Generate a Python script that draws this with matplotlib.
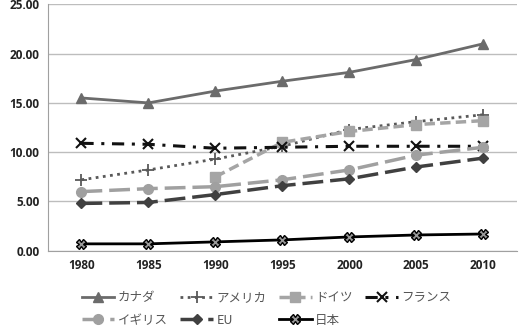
import matplotlib
matplotlib.use("Agg")
import matplotlib.pyplot as plt
import numpy as np

plt.rcParams['font.family'] = ['Noto Sans CJK JP', 'DejaVu Sans']

years = ["1980", "1985", "1990", "1995", "2000", "2005", "2010"]
canada = [15.5, 15.0, 16.2, 17.2, 18.1, 19.4, 21.0]
america = [7.2, 8.2, 9.3, 10.6, 12.3, 13.1, 13.8]
germany = [np.nan, np.nan, 7.5, 11.0, 12.1, 12.8, 13.2]
france = [10.9, 10.8, 10.4, 10.5, 10.6, 10.6, 10.6]
uk = [6.0, 6.3, 6.5, 7.2, 8.2, 9.7, 10.5]
eu = [4.8, 4.9, 5.7, 6.6, 7.3, 8.5, 9.4]
japan = [0.7, 0.7, 0.9, 1.1, 1.4, 1.6, 1.7]
yticks = [0, 5, 10, 15, 20, 25]

fig = plt.figure(figsize=(5.21, 3.33), dpi=100)
ax = fig.add_axes([0.092, 0.247, 0.9, 0.74])
x = np.arange(len(years))

hc, = ax.plot(x, canada, color='#6b6b6b', lw=2.0, marker='^', ms=7, label='カナダ')
ha, = ax.plot(x, america, color='#595959', lw=2.0, ls=(0, (1, 1.6)), marker='+', ms=8, mew=1.3, label='アメリカ')
hg, = ax.plot(x, germany, color='#a5a5a5', lw=2.5, ls=(0, (3, 1.5)), marker='s', ms=7, label='ドイツ')
hf, = ax.plot(x, france, color='#111111', lw=2.2, ls=(0, (4, 2.5, 1, 2.5)), marker='x', ms=7, mew=1.5, label='フランス')
hu, = ax.plot(x, uk, color='#a0a0a0', lw=2.5, ls=(0, (6, 2)), marker='o', ms=7, label='イギリス')
he, = ax.plot(x, eu, color='#404040', lw=2.5, ls=(0, (6, 2)), marker='D', ms=5, label='EU')
hj, = ax.plot(x, japan, color='#000000', lw=2.0, marker='X', ms=7, mfc='#9a9a9a', mec='#000000', mew=1.0, label='日本')

ax.set_xlim(-0.5, len(years) - 0.5)
ax.set_ylim(0, 25)
ax.set_yticks(yticks)
ax.set_yticklabels([f"{v:.2f}" for v in yticks])
ax.set_xticks(x)
ax.set_xticklabels(years)
ax.grid(axis='y', color='#bdbdbd', lw=1.0)
ax.set_axisbelow(True)
for s in ['top', 'right']:
    ax.spines[s].set_visible(False)
ax.spines['left'].set_color('#a0a0a0')
ax.spines['bottom'].set_color('#a0a0a0')
ax.tick_params(axis='both', length=0, labelsize=8.5, colors='#222222', pad=6)
for lab in ax.get_xticklabels() + ax.get_yticklabels():
    lab.set_fontweight('bold')
    lab.set_family(['Open Sans', 'DejaVu Sans'])

handles = [hc, hu, ha, he, hg, hj, hf]
labels = [h.get_label() for h in handles]
leg = fig.legend(handles, labels, loc='lower left', bbox_to_anchor=(0.135, -0.015), ncol=4, frameon=False,
                 fontsize=9, handlelength=2.6, handletextpad=0.3, columnspacing=1.0,
                 labelspacing=0.75, labelcolor='#555555')
fig.savefig('out.png', dpi=100)
